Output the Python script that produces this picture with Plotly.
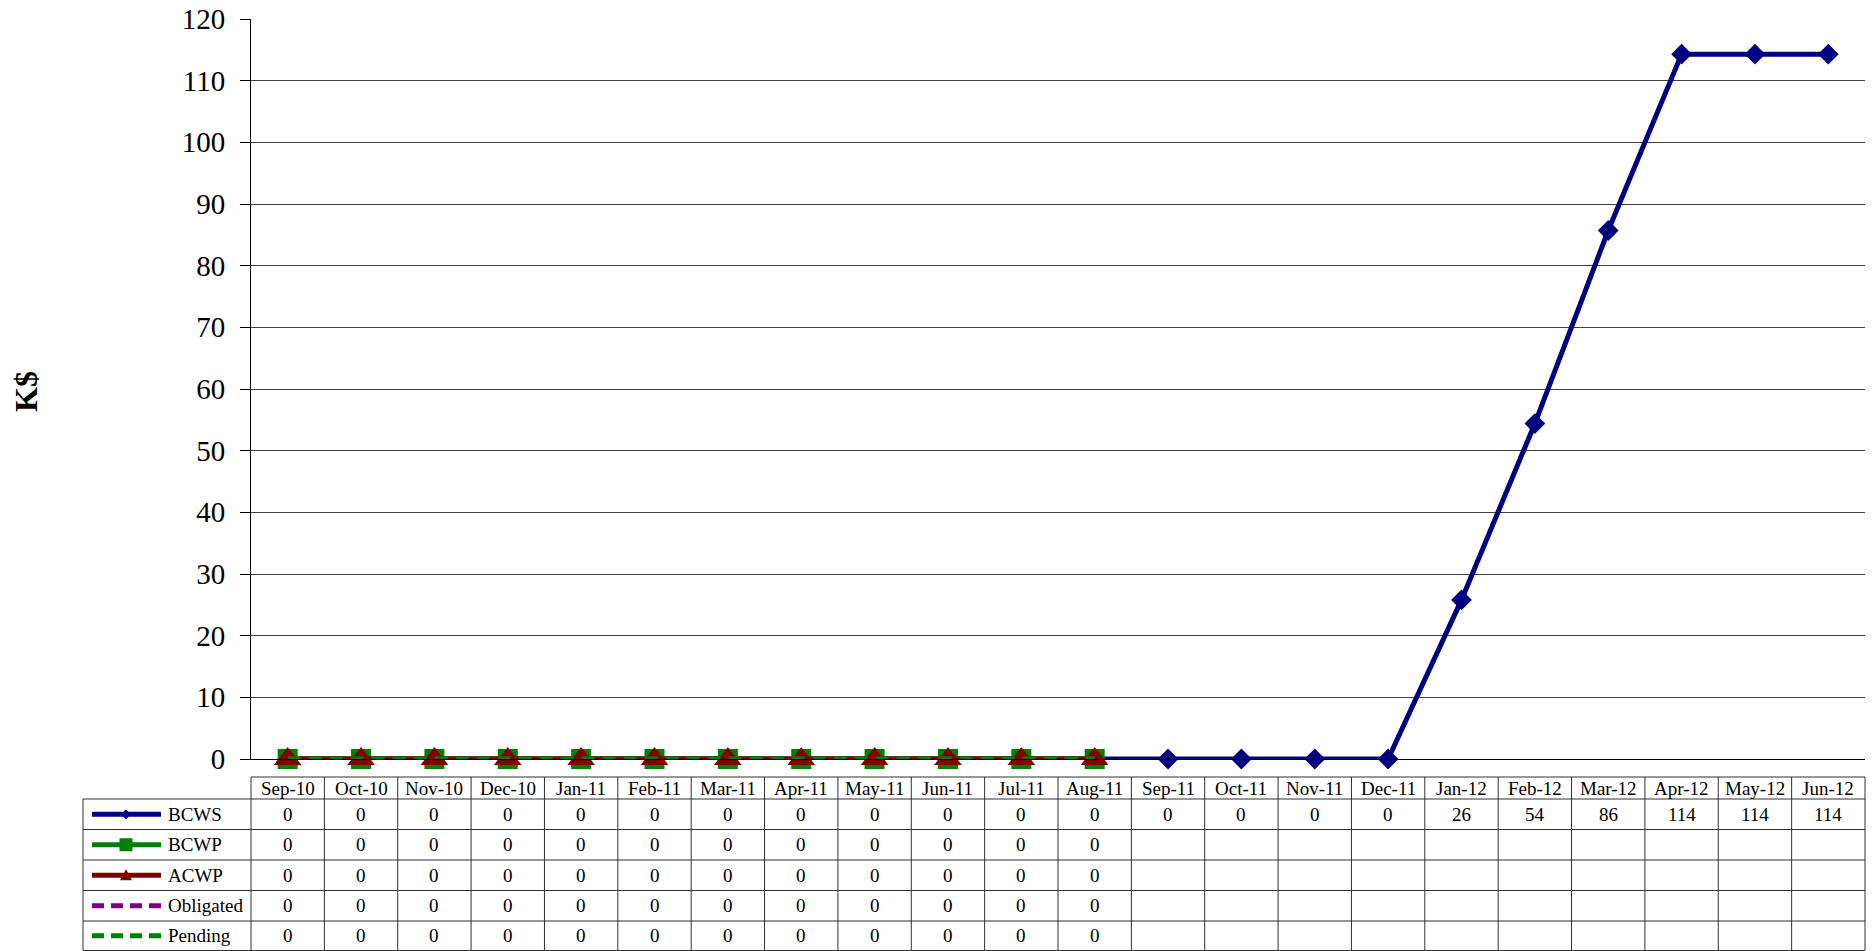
import plotly.graph_objects as go

months = ["Sep-10", "Oct-10", "Nov-10", "Dec-10", "Jan-11", "Feb-11", "Mar-11", "Apr-11",
          "May-11", "Jun-11", "Jul-11", "Aug-11", "Sep-11", "Oct-11", "Nov-11", "Dec-11",
          "Jan-12", "Feb-12", "Mar-12", "Apr-12", "May-12", "Jun-12"]
bcws = [0, 0, 0, 0, 0, 0, 0, 0, 0, 0, 0, 0, 0, 0, 0, 0, 25.8, 54.4, 85.7, 114.3, 114.3, 114.3]
bcwp = [0, 0, 0, 0, 0, 0, 0, 0, 0, 0, 0, 0] + [None] * 10
acwp = [0, 0, 0, 0, 0, 0, 0, 0, 0, 0, 0, 0] + [None] * 10
obligated = [0, 0, 0, 0, 0, 0, 0, 0, 0, 0, 0, 0] + [None] * 10
pending = [0, 0, 0, 0, 0, 0, 0, 0, 0, 0, 0, 0] + [None] * 10
y_ticks = [0, 10, 20, 30, 40, 50, 60, 70, 80, 90, 100, 110, 120]

FONT = "Liberation Serif"
W, H = 1875, 951
L, R, T, B = 251, 10, 19, 192
PW, PH = W - L - R, H - T - B


def px_x(px):
    return (px - L) / PW


def px_y(py):
    return (T + PH - py) / PH


series = [
    ("BCWS", bcws, "#000080", "solid", "diamond", 16),
    ("BCWP", bcwp, "#008000", "solid", "square", 20),
    ("ACWP", acwp, "#800000", "solid", "triangle-up", 24),
    ("Obligated", obligated, "#800080", "13px,8px", None, 0),
    ("Pending", pending, "#008000", "13px,8px", None, 0),
]

fig = go.Figure()
for name, vals, col, dash, sym, size in series:
    fig.add_trace(go.Scatter(
        x=months, y=vals, name=name, cliponaxis=False,
        mode="lines+markers" if sym else "lines",
        line=dict(color=col, width=5, dash=dash),
        marker=dict(symbol=sym or "circle", size=size, color=col),
        showlegend=False,
    ))

# data table below the plot
line_col = "#303030"
header_top, header_bot = 777, 799
row_edges = [799, 829.5, 860, 890.5, 921, 950.5]
legend_left = 83
shapes = []
annotations = []
txt = dict(family=FONT, size=19, color="black")

# horizontal lines
shapes.append(dict(type="line", xref="paper", yref="paper", x0=0, x1=1,
                   y0=px_y(header_top), y1=px_y(header_top), line=dict(color=line_col, width=1)))
for py in row_edges:
    shapes.append(dict(type="line", xref="paper", yref="paper", x0=px_x(legend_left), x1=1,
                       y0=px_y(py), y1=px_y(py), line=dict(color=line_col, width=1)))
# vertical lines
for i in range(len(months) + 1):
    shapes.append(dict(type="line", xref="paper", yref="paper",
                       x0=i / len(months), x1=i / len(months),
                       y0=px_y(header_top), y1=px_y(row_edges[-1]),
                       line=dict(color=line_col, width=1)))
shapes.append(dict(type="line", xref="paper", yref="paper", x0=px_x(legend_left), x1=px_x(legend_left),
                   y0=px_y(row_edges[0]), y1=px_y(row_edges[-1]), line=dict(color=line_col, width=1)))

for m in months:
    annotations.append(dict(x=m, xref="x", y=px_y((header_top + header_bot) / 2), yref="paper",
                            xanchor="center", yanchor="middle",
                            text=m, showarrow=False, font=txt))

marker_paths = {
    "diamond": "M 0 5 L 5 0 L 0 -5 L -5 0 Z",
    "square": "M -6.5 -6.5 L 6.5 -6.5 L 6.5 6.5 L -6.5 6.5 Z",
    "triangle-up": "M 0 6 L 6 -5 L -6 -5 Z",
}
for r, (name, vals, col, dash, sym, size) in enumerate(series):
    cy = px_y((row_edges[r] + row_edges[r + 1]) / 2)
    for m, v in zip(months, vals):
        if v is None:
            continue
        annotations.append(dict(x=m, xref="x", y=cy, yref="paper", text=str(int(round(v))),
                                xanchor="center", yanchor="middle", showarrow=False, font=txt))
    annotations.append(dict(x=px_x(166), xref="paper", y=cy, yref="paper", text=name,
                            xanchor="left", yanchor="middle", showarrow=False, font=txt))
    shapes.append(dict(type="line", xref="paper", yref="paper", x0=px_x(92), x1=px_x(161), y0=cy, y1=cy,
                       line=dict(color=col, width=5, dash="12px,7px" if dash != "solid" else "solid")))
    if sym:
        shapes.append(dict(type="path", xref="paper", yref="paper", xsizemode="pixel", ysizemode="pixel",
                           xanchor=px_x(126), yanchor=cy, path=marker_paths[sym],
                           fillcolor=col, line=dict(color=col, width=0)))

annotations.append(dict(x=px_x(26), xref="paper", y=px_y(392), yref="paper", text="<b>K$</b>",
                        xanchor="center", yanchor="middle",
                        textangle=-90, showarrow=False, font=dict(family=FONT, size=32, color="black")))

fig.update_layout(
    width=W, height=H,
    margin=dict(l=L, r=R, t=T, b=B),
    plot_bgcolor="white", paper_bgcolor="white",
    shapes=shapes, annotations=annotations,
    xaxis=dict(type="category", range=[-0.5, len(months) - 0.5], showticklabels=False,
               showgrid=False, zeroline=False, showline=True, linecolor="black", linewidth=1,
               ticks="", automargin=False),
    yaxis=dict(range=[0, 120], tickvals=y_ticks, showgrid=True, gridcolor="#404040", gridwidth=1,
               zeroline=False, showline=True, linecolor="black", linewidth=1, automargin=False,
               ticks="outside", ticklen=10, tickcolor="black", ticklabelstandoff=9,
               tickfont=dict(family=FONT, size=29, color="black")),
)

fig.write_html("out.html", config={"displayModeBar": False},
               post_script="document.body.style.margin='0';")
